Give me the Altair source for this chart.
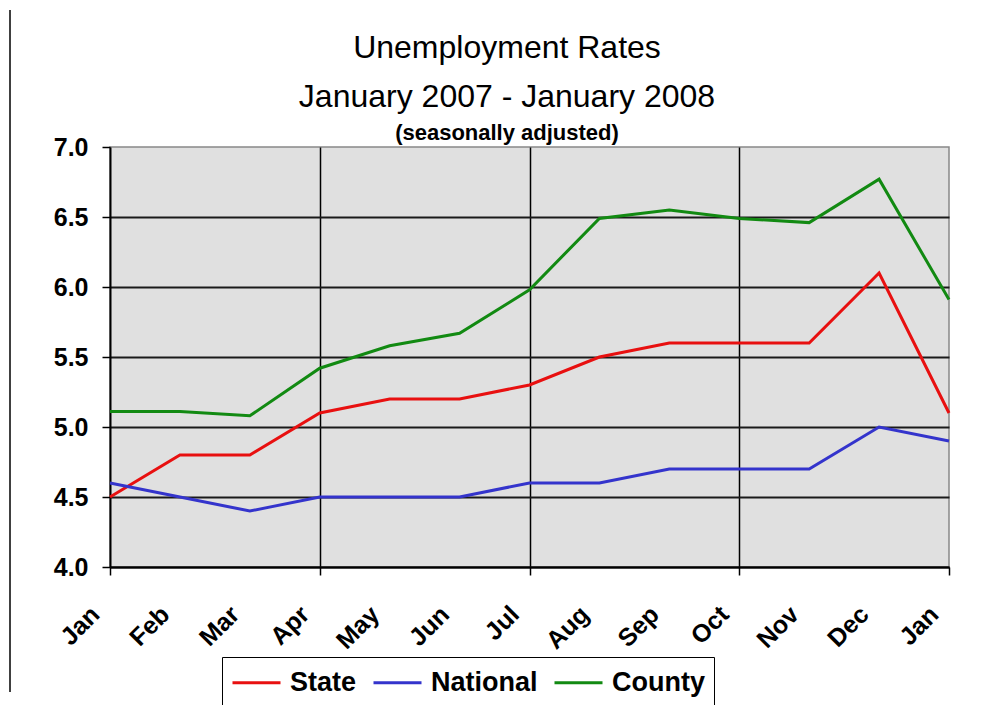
import altair as alt
import pandas as pd

months = ["Jan", "Feb", "Mar", "Apr", "May", "Jun", "Jul", "Aug", "Sep", "Oct", "Nov", "Dec", "Jan"]
state = [4.5, 4.8, 4.8, 5.1, 5.2, 5.2, 5.3, 5.5, 5.6, 5.6, 5.6, 6.1, 5.1]
national = [4.6, 4.5, 4.4, 4.5, 4.5, 4.5, 4.6, 4.6, 4.7, 4.7, 4.7, 5.0, 4.9]
county = [5.11, 5.11, 5.08, 5.42, 5.58, 5.67, 5.98, 6.49, 6.55, 6.49, 6.46, 6.77, 5.91]
series_names = ["State", "National", "County"]
series_colors = ["#e81010", "#3434cc", "#128a12"]
y_ticks = [4.0, 4.5, 5.0, 5.5, 6.0, 6.5, 7.0]
title_lines = ["Unemployment Rates", "January 2007 - January 2008"]
subtitle_text = "(seasonally adjusted)"

rows = []
for name, vals in zip(series_names, [state, national, county]):
    for i, v in enumerate(vals):
        rows.append({"idx": i, "month": months[i], "series": name, "rate": v})
df = pd.DataFrame(rows)

FONT = "Liberation Sans"
label_expr = "[" + ",".join("'%s'" % m for m in months) + "][datum.value]"

x_axis = alt.Axis(
    values=list(range(len(months))),
    labelExpr=label_expr,
    labelAngle=315,
    labelAlign="right",
    labelBaseline="middle",
    labelFont=FONT,
    labelFontSize=25,
    labelFontWeight="bold",
    labelColor="black",
    labelPadding=35,
    labelOffset=-15,
    tickSize=8,
    tickColor="black",
    tickWidth=1.5,
    tickOpacity=alt.condition("datum.value % 3 === 0", alt.value(1), alt.value(0)),
    grid=True,
    gridColor="black",
    gridWidth=1.5,
    gridOpacity=alt.condition("datum.value % 3 === 0 && datum.value > 0 && datum.value < 12", alt.value(1), alt.value(0)),
    domainColor="black",
    domainWidth=2,
    title=None,
)

y_axis = alt.Axis(
    values=y_ticks,
    format=".1f",
    labelFont=FONT,
    labelFontSize=25,
    labelFontWeight="bold",
    labelColor="black",
    labelPadding=14,
    tickSize=8,
    tickColor="black",
    tickWidth=1.5,
    grid=True,
    gridColor="#1a1a1a",
    gridWidth=2,
    gridOpacity=alt.condition("datum.value < 7", alt.value(1), alt.value(0)),
    domainColor="black",
    domainWidth=2,
    title=None,
)

lines = alt.Chart(df).mark_line(strokeWidth=3).encode(
    x=alt.X("idx:Q", scale=alt.Scale(domain=[0, 12], nice=False, zero=False), axis=x_axis),
    y=alt.Y("rate:Q", scale=alt.Scale(domain=[4, 7], nice=False, zero=False), axis=y_axis),
    color=alt.Color(
        "series:N",
        scale=alt.Scale(domain=series_names, range=series_colors),
        sort=series_names,
        legend=alt.Legend(
            title=None,
            orient="none",
            legendX=112,
            legendY=510,
            direction="horizontal",
            strokeColor="black",
            fillColor="white",
            padding=9,
            symbolType="M-1,0H2.2",
            symbolSize=900,
            symbolStrokeWidth=3,
            symbolFillColor="transparent",
            labelFont=FONT,
            labelFontSize=27,
            labelFontWeight="bold",
            labelColor="black",
            labelOffset=26,
            columnPadding=10,
        ),
    ),
    detail="series:N",
)

one = pd.DataFrame({"v": [0]})
border = alt.Chart(one).mark_rule(color="black", strokeWidth=1.5).encode(
    x=alt.value(-100), y=alt.value(-137), y2=alt.value(545)
)
t1 = alt.Chart(one).mark_text(
    text=title_lines[0], font=FONT, fontSize=32, color="black", baseline="middle", align="center"
).encode(x=alt.value(397), y=alt.value(-99))
t2 = alt.Chart(one).mark_text(
    text=title_lines[1], font=FONT, fontSize=32, color="black", baseline="middle", align="center"
).encode(x=alt.value(397), y=alt.value(-50))
t3 = alt.Chart(one).mark_text(
    text=subtitle_text, font=FONT, fontSize=22, fontWeight="bold", color="black", baseline="middle", align="center"
).encode(x=alt.value(397), y=alt.value(-14))

chart = alt.layer(lines, border, t1, t2, t3).properties(
    width=839,
    height=420,
    autosize=alt.AutoSizeParams(type="none"),
    padding={"left": 102, "top": 139, "right": 30, "bottom": 145},
    background="white",
).configure_view(
    fill="#e0e0e0", stroke="#888888", strokeWidth=1.5
)

chart.save("out.html", embed_options={"renderer": "svg", "actions": False})
